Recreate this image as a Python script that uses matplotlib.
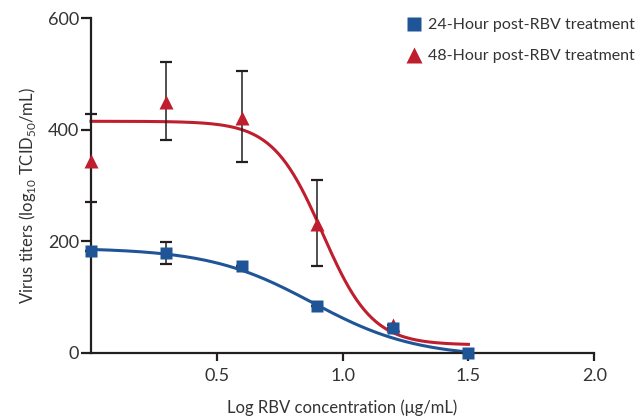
import numpy as np
import matplotlib
matplotlib.use('Agg')
import matplotlib.pyplot as plt

# measured points (log RBV conc., titer) with error bar ends
x_pts = [0.0, 0.3, 0.6, 0.9, 1.2, 1.5]
titer_24h = [182, 179, 156, 84, 44, 0]
err_24h_lo = [182, 160, 156, 84, 44, 0]
err_24h_hi = [182, 198, 156, 84, 44, 0]

x_pts_48 = [0.0, 0.3, 0.6, 0.9, 1.2]
titer_48h = [344, 450, 420, 231, 50]
err_48h_lo = [271, 381, 342, 156, 50]
err_48h_hi = [428, 522, 506, 309, 50]

# fitted dose-response curves (4PL): top, bottom, log EC50, hill slope
fit_24h = [188, -8, 0.88, 2.1]
fit_48h = [415, 14, 0.92, 4.4]

labels = ['24-Hour post-RBV treatment', '48-Hour post-RBV treatment']
x_ticks = [0.5, 1.0, 1.5, 2.0]
y_ticks = [0, 200, 400, 600]

blue = '#1f5597'
red = '#be1e2d'
ink = '#231f20'
txt = '#333333'
font = 'Lato'

plt.rcParams['font.family'] = [font, 'DejaVu Sans']
plt.rcParams['mathtext.fontset'] = 'custom'
plt.rcParams['mathtext.rm'] = font


def four_pl(x, p):
  top, bottom, x50, h = p
  return bottom + (top - bottom) / (1 + 10 ** ((x - x50) * h))


fig = plt.figure(figsize=(6.41, 4.2), dpi=100)
ax = fig.add_axes([0.142, 0.16, 0.785, 0.797])

xs = np.linspace(0, 1.5, 200)
ax.plot(xs, four_pl(xs, fit_24h), color=blue, lw=2.2, zorder=2, clip_on=False)
ax.plot(xs, four_pl(xs, fit_48h), color=red, lw=2.2, zorder=2, clip_on=False)

def draw_err(xv, yv, lo, hi):
  yv = np.array(yv)
  yerr = [yv - np.array(lo), np.array(hi) - yv]
  ax.errorbar(xv, yv, yerr=yerr, fmt='none', ecolor=ink, elinewidth=1.1,
              capsize=4.5, capthick=1.6, zorder=3, clip_on=False)

draw_err(x_pts, titer_24h, err_24h_lo, err_24h_hi)
draw_err(x_pts_48, titer_48h, err_48h_lo, err_48h_hi)

ax.plot(x_pts_48, titer_48h, '^', color=red, ms=10, mec='none', zorder=4,
        clip_on=False, label=labels[1])
ax.plot(x_pts, titer_24h, 's', color=blue, ms=8.6, mec='none', zorder=5,
        clip_on=False, label=labels[0])

ax.set_xlim(0, 2.0)
ax.set_ylim(0, 600)
ax.set_xticks(x_ticks, [f'{t:.1f}' for t in x_ticks])
ax.set_yticks(y_ticks, [str(t) for t in y_ticks])
for s in ['top', 'right']:
  ax.spines[s].set_visible(False)
for s in ['left', 'bottom']:
  ax.spines[s].set_linewidth(1.6)
  ax.spines[s].set_color(ink)
ax.tick_params(axis='both', direction='out', width=1.6, color=ink,
               labelsize=13, labelcolor=txt)
ax.tick_params(axis='y', length=7, pad=1.5)
ax.tick_params(axis='x', length=6, pad=5)

ax.set_xlabel('Log RBV concentration (\u03bcg/mL)', fontsize=12, color=txt, labelpad=11)
ax.set_ylabel(r'Virus titers (log$_{\mathrm{10}}$ TCID$_{\mathrm{50}}$/mL)', fontsize=12,
              color=txt, labelpad=9)
ax.yaxis.set_label_coords(-0.105, 0.47)

h, l = ax.get_legend_handles_labels()
fig.legend(h[::-1], l[::-1], loc='upper right', bbox_to_anchor=(1.0, 0.972),
           frameon=False, fontsize=11.5, handlelength=1.0, handletextpad=0.35,
           labelspacing=1.05, borderaxespad=0.0, labelcolor=txt, markerscale=1.15)

fig.savefig('out.png', dpi=100)
